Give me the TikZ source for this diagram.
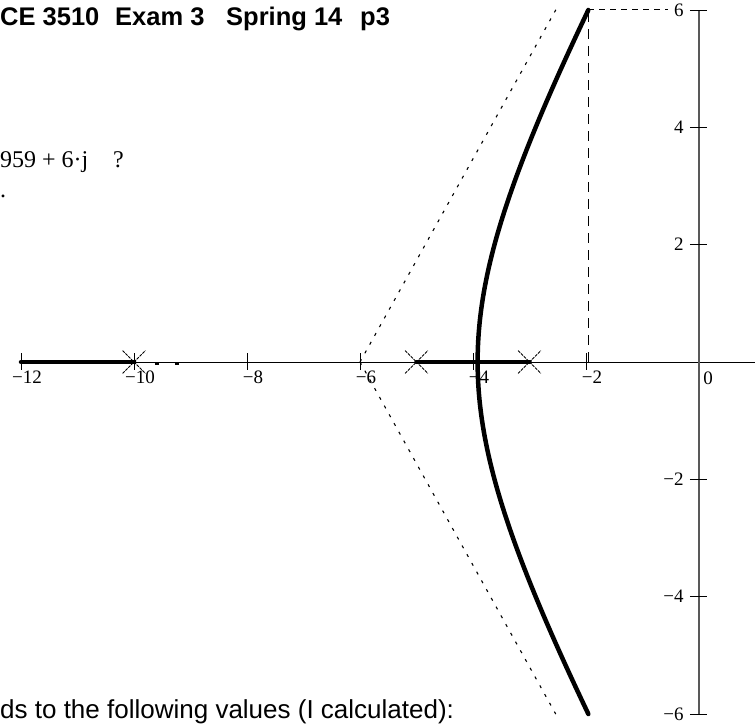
\documentclass[tikz,border=0pt]{standalone}
\usepackage{fontspec}
\setmainfont{Liberation Serif}
\newfontfamily\arialfont{Liberation Sans}
\usetikzlibrary{shapes.misc}

\begin{document}
\begin{tikzpicture}[
  x=1pt, y=1pt,
  title/.style={font=\arialfont\bfseries\fontsize{25.5}{30}\selectfont, inner sep=0pt},
  bodytext/.style={font=\arialfont\fontsize{26}{31}\selectfont, inner sep=0pt},
  mathtext/.style={font=\fontsize{24}{29}\selectfont, inner sep=0pt},
  ticklabel/.style={font=\fontsize{19}{21}\selectfont, inner sep=0pt},
  pole/.style={cross out, draw=black, line width=0.8pt, dash pattern=on 3pt off 1pt, minimum size=22pt, inner sep=0pt},
  locus/.style={line width=4.5pt, line cap=round},
  asym/.style={dash pattern=on 3pt off 7pt, line width=1.1pt},
  guide/.style={dash pattern=on 10pt off 7pt, line width=1pt}
]
  \useasboundingbox (0,0) rectangle (755,723);
  \clip (0,0) rectangle (755,723);

  % Page text
  \node[title, anchor=base west] (course) at (0,697) {CE 3510};
  \node[title, anchor=base west] (exam) at (115,697) {Exam 3};
  \node[title, anchor=base west] (term) at (226,697) {Spring 14};
  \node[title, anchor=base west] (page) at (360,697) {p3};
  \node[mathtext, anchor=base west] (root) at (0,555) {959 + 6·j};
  \node[mathtext, anchor=base west] (ask) at (113,555) {?};
  \node[mathtext, anchor=base west] (dot) at (0,525) {.};
  \node[bodytext, anchor=base west] (note) at (0,5) {ds to the following values (I calculated):};

  \begin{scope}[shift={(699pt,361pt)}, x=56.5pt, y=58.67pt]
    % Axes
    \coordinate (xmin) at (-12,0);
    \coordinate (xmax) at (1.2,0);
    \coordinate (ymin) at (0,-6);
    \coordinate (ymax) at (0,6);
    \draw[line width=0.8pt] (xmin) -- (xmax);
    \draw[line width=1.8pt, draw=black!65] (ymin) -- (ymax);
    \foreach \s in {12,10,8,6,4,2} {
      \draw[line width=0.8pt] (-\s,0.15) -- (-\s,-0.13);
      \node[ticklabel] (xlab\s) at ([xshift=6pt]-\s,-0.26) {−\s};
    }
    \node[ticklabel] (xlab0) at ([xshift=9pt]0,-0.27) {0};
    \foreach \w in {2,4,6} {
      \draw[line width=0.8pt] (-0.16,\w) -- (0.14,\w);
      \draw[line width=0.8pt] (-0.16,-\w) -- (0.14,-\w);
      \node[ticklabel, anchor=east] (ylab\w) at (-0.27,\w) {\w};
      \node[ticklabel, anchor=east] (ylabm\w) at (-0.27,-\w) {−\w};
    }

    % Asymptotes
    \coordinate (cent) at (-6,0);
    \draw[asym] (cent) -- (-2.478,6.1);
    \draw[asym] (cent) -- (-2.536,-6);
    \draw[asym, line width=1.6pt, dash pattern=on 4pt off 16pt] (-9.63,-0.03) -- (-9.1,-0.03);

    % Design point
    \coordinate (foot) at (-1.959,0);
    \coordinate (top) at (-1.959,6);
    \coordinate (stop) at (-0.55,6);
    \draw[guide] (foot) -- (top);
    \draw[guide, dash pattern=on 6pt off 5pt] (top) -- (stop);

    % Poles
    \node[pole] (p1) at (-10,0) {};
    \node[pole] (p2) at (-5,0) {};
    \node[pole] (p3) at (-3,0) {};

    % Root locus
    \draw[locus] (xmin) -- (p1.center);
    \draw[locus] (p2.center) -- (p3.center);
    \draw[locus] plot[domain=-6:6, samples=121, variable=\w] ({-6+sqrt((13+\w*\w)/3)},\w);
  \end{scope}
\end{tikzpicture}
\end{document}
